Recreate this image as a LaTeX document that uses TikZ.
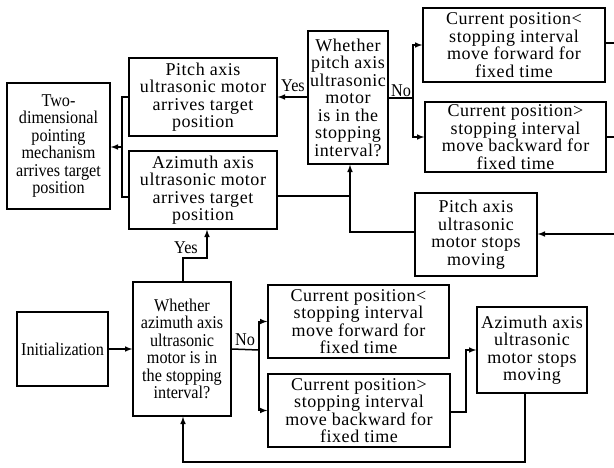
\documentclass[tikz,border=0pt]{standalone}
\usepackage{fontspec}
\setmainfont{Liberation Serif}
\newfontfamily\widefont{Liberation Serif}[LetterSpace=3]
\newfontfamily\narrowfont{Liberation Serif}[FakeStretch=0.9]
\usetikzlibrary{arrows}

\begin{document}
\begin{tikzpicture}[x=1pt,y=-1pt,
  box/.style={draw, line width=1.4pt, align=center, inner sep=1pt,
    font=\narrowfont\fontsize{18}{17.5}\selectfont},
  wbox/.style={box, font=\widefont\fontsize{18}{17.5}\selectfont},
  conn/.style={line width=1.5pt, -latex},
  line/.style={line width=1.5pt},
  lbl/.style={font=\narrowfont\fontsize{18}{17.5}\selectfont, inner sep=0pt}]
\useasboundingbox (0,0) rectangle (614,467);

% upper half: pitch axis
\node[box, minimum width=103pt, minimum height=126pt] (twod) at (58.5,146)
  {Two-\\dimensional\\pointing\\mechanism\\arrives target\\position};
\node[wbox, minimum width=148pt, minimum height=78pt] (pitcharr) at (203,97)
  {Pitch axis\\ultrasonic motor\\arrives target\\position};
\node[wbox, minimum width=148pt, minimum height=78pt] (aziarr) at (203,190)
  {Azimuth axis\\ultrasonic motor\\arrives target\\position};
\node[wbox, minimum width=80pt, minimum height=133pt] (pitchdec) at (348,97.5)
  {Whether\\pitch axis\\ultrasonic\\motor\\is in the\\stopping\\interval?};
\node[wbox, minimum width=182pt, minimum height=74pt] (pcurlo) at (514,45)
  {Current position<\\stopping interval\\move forward for\\fixed time};
\node[wbox, minimum width=181pt, minimum height=70pt] (pcurhi) at (515.5,137)
  {Current position>\\stopping interval\\move backward for\\fixed time};
\node[wbox, minimum width=122pt, minimum height=83pt] (pstop) at (476,234.5)
  {Pitch axis\\ultrasonic\\motor stops\\moving};

% lower half: azimuth axis
\node[box, minimum width=91pt, minimum height=74pt] (init) at (62.5,349)
  {Initialization};
\node[box, minimum width=98pt, minimum height=134pt] (azidec) at (182,349)
  {Whether\\azimuth axis\\ultrasonic\\motor is in\\the stopping\\interval?};
\node[wbox, minimum width=181pt, minimum height=73pt] (acurlo) at (358.5,321.5)
  {Current position<\\stopping interval\\move forward for\\fixed time};
\node[wbox, minimum width=182pt, minimum height=73pt] (acurhi) at (359,410.5)
  {Current position>\\stopping interval\\move backward for\\fixed time};
\node[wbox, minimum width=110pt, minimum height=86pt] (astop) at (532,350)
  {Azimuth axis\\ultrasonic\\motor stops\\moving};

% labels
\node[lbl] (yes1) at (293,86) {Yes};
\node[lbl] (no1) at (401,91) {No};
\node[lbl] (yes2) at (186,248) {Yes};
\node[lbl] (no2) at (245,340) {No};

% helper points
\coordinate (jl) at (122,147);
\coordinate (jm) at (350,196);
\coordinate (pnb) at (413,98);
\coordinate (anb) at (259,350);
\coordinate (edgea) at (614,43);
\coordinate (edgeb) at (614,137);
\coordinate (edgec) at (614,234);

% connectors, upper half
\draw[line] (pitcharr.west) -| (jl) |- (122,197) -- (129,197);
\draw[conn] (jl) -- (jl -| twod.east);
\draw[conn] (pitchdec.west |- pitcharr.east) -- (pitcharr.east);
\draw[line] (pitchdec.east |- pnb) -- (pnb);
\draw[conn] (pnb) |- (pcurlo.west);
\draw[conn] (pnb) |- (pcurhi.west);
\draw[line] (pcurlo.east |- edgea) -- (edgea);
\draw[line] (pcurhi.east |- edgeb) -- (edgeb);
\draw[conn] (edgec) -- (edgec -| pstop.east);
\draw[line] (aziarr.east |- jm) -- (jm);
\draw[conn] (pstop.west |- 0,232) -| (jm) -- (pitchdec.south -| jm);

% connectors, lower half
\draw[conn] (init.east) -- (azidec.west);
\draw[conn] (183,282) -- (183,258) -| (aziarr.south -| 207,0);
\draw[line] (azidec.east) -- (anb);
\draw[conn] (anb) |- (acurlo.west);
\draw[conn] (anb) |- (acurhi.west);
\draw[conn] (acurhi.east |- 0,412) -| (466,350) -- (astop.west);
\draw[conn] (astop.south -| 525,0) |- (183,462) -- (azidec.south -| 183,0);
\end{tikzpicture}
\end{document}
